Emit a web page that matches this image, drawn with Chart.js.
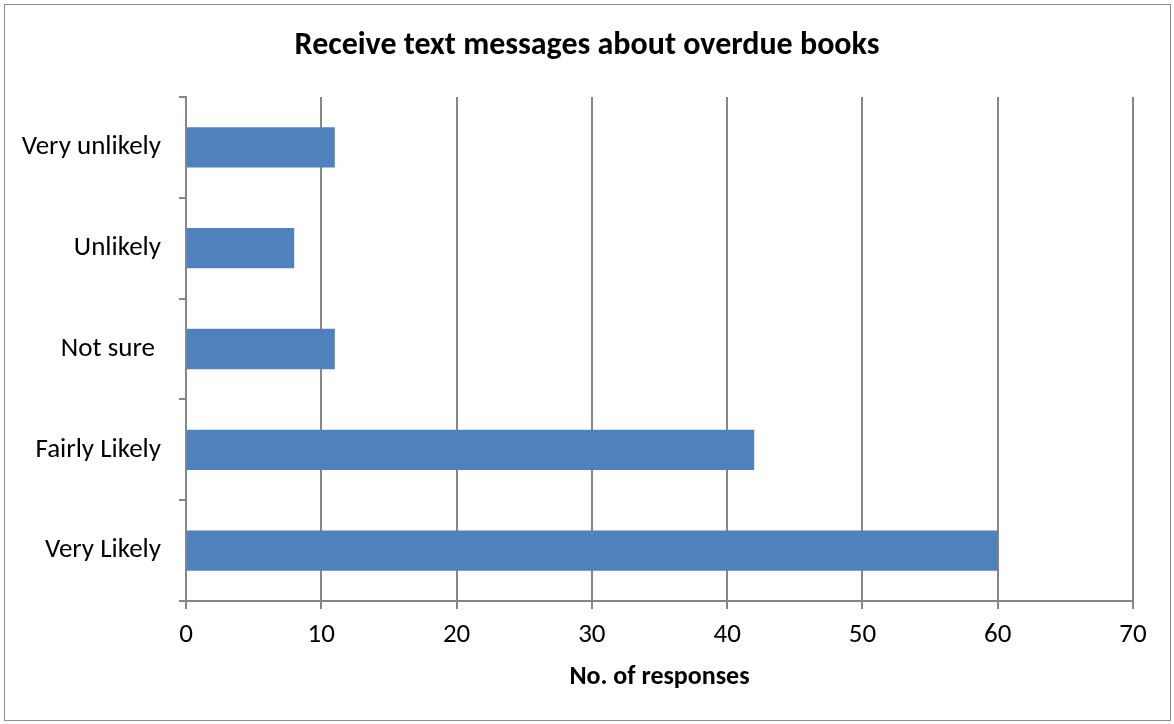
<!DOCTYPE html>
<html>
<head>
<meta charset="utf-8">
<script src="https://cdn.jsdelivr.net/npm/chart.js@4/dist/chart.umd.min.js"></script>
<style>
  html, body { margin: 0; padding: 0; background: #ffffff; }
  #wrap { width: 1174px; height: 724px; position: relative; }
</style>
</head>
<body>
<div id="wrap"><canvas id="c" width="1174" height="724"></canvas></div>
<script>
// Survey responses, listed top to bottom
const categories = ['Very unlikely', 'Unlikely', 'Not sure ', 'Fairly Likely', 'Very Likely'];
const responses = [11, 8, 11, 42, 60];
const xTicks = [0, 10, 20, 30, 40, 50, 60, 70];

const chartTitle = 'Receive text messages about overdue books';
const xAxisTitle = 'No. of responses';

const FONT = "Carlito, Calibri, Lato, 'Open Sans', sans-serif";
const GRID = '#868686';

// Thin grey frame around the whole chart, plus the centred heading
const framePlugin = {
  id: 'frame',
  afterDraw(chart) {
    const ctx = chart.ctx;
    ctx.save();
    ctx.strokeStyle = '#8c8c8c';
    ctx.lineWidth = 1;
    ctx.strokeRect(4.5, 4.5, chart.width - 8, chart.height - 8);
    ctx.fillStyle = '#000000';
    ctx.font = 'bold 32px ' + FONT;
    ctx.textAlign = 'center';
    ctx.textBaseline = 'middle';
    ctx.fillText(chartTitle, chart.width / 2, 46);
    ctx.restore();
  }
};

new Chart(document.getElementById('c'), {
  type: 'bar',
  data: {
    labels: categories,
    datasets: [{
      data: responses,
      backgroundColor: '#4f81bd',
      borderWidth: 0,
      barPercentage: 0.4,
      categoryPercentage: 1.0
    }]
  },
  options: {
    indexAxis: 'y',
    responsive: false,
    animation: false,
    layout: { padding: { left: 0, right: 41, top: 97, bottom: 0 } },
    plugins: {
      legend: { display: false },
      tooltip: { enabled: false },
      title: { display: false }
    },
    scales: {
      x: {
        min: 0,
        max: 70,
        afterBuildTicks(scale) {
          scale.ticks = xTicks.map(v => ({ value: v }));
        },
        afterFit(scale) { scale.height = 123; },
        border: { display: true, color: GRID, width: 2 },
        grid: {
          color: GRID,
          lineWidth: 2,
          drawTicks: true,
          tickLength: 8,
          tickColor: GRID
        },
        ticks: {
          color: '#000000',
          font: { family: FONT, size: 27 },
          padding: 10,
          maxRotation: 0
        },
        title: {
          display: true,
          text: xAxisTitle,
          color: '#000000',
          font: { family: FONT, size: 26, weight: 'bold' },
          padding: { top: 0, bottom: 31 }
        }
      },
      y: {
        offset: true,
        afterFit(scale) { scale.width = 186; },
        border: { display: true, color: GRID, width: 2 },
        grid: {
          offset: true,
          drawOnChartArea: false,
          drawTicks: true,
          tickLength: 7,
          color: GRID,
          lineWidth: 2
        },
        ticks: {
          color: '#000000',
          font: { family: FONT, size: 27 },
          padding: 18
        }
      }
    }
  },
  plugins: [framePlugin]
});
</script>
</body>
</html>
